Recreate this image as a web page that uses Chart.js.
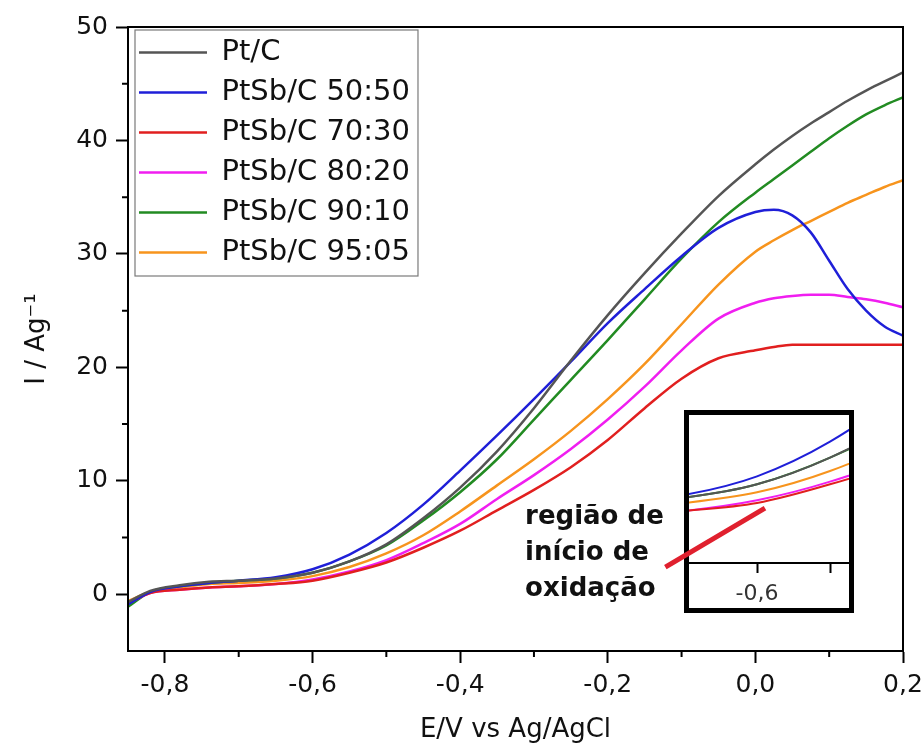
<!DOCTYPE html>
<html>
<head>
<meta charset="utf-8">
<script src="https://cdn.jsdelivr.net/npm/chart.js@4.4.1/dist/chart.umd.min.js"></script>
<style>
  html, body { margin: 0; padding: 0; background: #fff; }
  #wrap { position: relative; width: 923px; height: 746px; overflow: hidden; background: #fff; }
  #main { position: absolute; left: 0; top: 0; z-index: 2; }
  #insetBox { position: absolute; left: 684px; top: 410px; width: 160px; height: 193px;
              border: 5px solid #000; background: #fff; z-index: 1; }
  #inset { display: block; }
</style>
</head>
<body>
<div id="wrap">
  <div id="insetBox"><canvas id="inset" width="160" height="193"></canvas></div>
  <canvas id="main" width="923" height="746"></canvas>
</div>
<script>
// ---------------- data ----------------
const E = [-0.85, -0.82, -0.78, -0.74, -0.70, -0.65, -0.60, -0.55, -0.50, -0.45, -0.40, -0.35, -0.30,
           -0.25, -0.20, -0.15, -0.10, -0.05, 0.00, 0.025, 0.05, 0.075, 0.10, 0.125, 0.15, 0.175, 0.20];

const ptC      = [-0.7, 0.3, 0.8, 1.1, 1.2, 1.4, 1.9, 2.9, 4.4, 6.7, 9.4, 12.6, 16.4,
                  20.6, 24.6, 28.3, 31.8, 35.1, 37.9, 39.2, 40.4, 41.5, 42.5, 43.5, 44.4, 45.2, 46.0];
const ptSb5050 = [-0.9, 0.2, 0.7, 1.0, 1.2, 1.5, 2.2, 3.5, 5.4, 7.9, 10.9, 14.0, 17.2,
                  20.5, 23.9, 26.9, 29.8, 32.3, 33.7, 33.9, 33.4, 31.9, 29.4, 26.9, 25.0, 23.6, 22.8];
const ptSb7030 = [-0.8, 0.1, 0.4, 0.6, 0.7, 0.9, 1.2, 1.9, 2.8, 4.1, 5.6, 7.4, 9.2,
                  11.2, 13.6, 16.4, 19.0, 20.8, 21.5, 21.8, 22.0, 22.0, 22.0, 22.0, 22.0, 22.0, 22.0];
const ptSb8020 = [-0.8, 0.1, 0.4, 0.6, 0.7, 0.9, 1.3, 2.0, 3.0, 4.5, 6.2, 8.4, 10.5,
                  12.8, 15.4, 18.3, 21.5, 24.3, 25.7, 26.1, 26.3, 26.4, 26.4, 26.2, 26.0, 25.7, 25.3];
const ptSb9010 = [-1.1, 0.2, 0.7, 1.0, 1.2, 1.4, 1.9, 2.9, 4.3, 6.5, 9.0, 11.9, 15.4,
                  18.9, 22.4, 26.0, 29.6, 32.8, 35.4, 36.6, 37.8, 39.0, 40.2, 41.3, 42.3, 43.1, 43.8];
const ptSb9505 = [-0.6, 0.2, 0.6, 0.9, 1.0, 1.2, 1.6, 2.4, 3.6, 5.2, 7.3, 9.6, 11.9,
                  14.4, 17.2, 20.3, 23.8, 27.3, 30.2, 31.2, 32.1, 32.9, 33.7, 34.5, 35.2, 35.9, 36.5];

const seriesNames  = ['Pt/C', 'PtSb/C 50:50', 'PtSb/C 70:30', 'PtSb/C 80:20', 'PtSb/C 90:10', 'PtSb/C 95:05'];
const seriesValues = [ptC, ptSb5050, ptSb7030, ptSb8020, ptSb9010, ptSb9505];
const seriesColors = ['#555555', '#1f1fd8', '#e11f1f', '#f01ef0', '#228b22', '#f7941d'];

const xMajorTicks = [-0.8, -0.6, -0.4, -0.2, 0.0, 0.2];
const xMinorTicks = [-0.7, -0.5, -0.3, -0.1, 0.1];
const yMajorTicks = [0, 10, 20, 30, 40, 50];
const yMinorTicks = [5, 15, 25, 35, 45];
const insetTicks      = [-0.6, -0.55];
const insetTickLabels = [-0.6];

const xTitle = 'E/V vs Ag/AgCl';
const yTitle = 'I / Ag\u207B\u00B9';
const noteLines = ['região de', 'início de', 'oxidação'];

// ---------------- helpers ----------------
const FONT = "'DejaVu Sans', 'Liberation Sans', Arial, sans-serif";
const fmt = v => v.toFixed(1).replace('.', ',');
const inList = (list, v) => list.some(t => Math.abs(t - v) < 1e-9);
const allX = xMajorTicks.concat(xMinorTicks).sort((a, b) => a - b);
const allY = yMajorTicks.concat(yMinorTicks).sort((a, b) => a - b);
const MINOR_LEN = 6;

function makeDatasets(width) {
  return seriesNames.map((name, i) => ({
    label: name,
    data: E.map((e, j) => ({ x: e, y: seriesValues[i][j] })),
    borderColor: seriesColors[i],
    backgroundColor: seriesColors[i],
    borderWidth: width,
    pointRadius: 0,
    cubicInterpolationMode: 'monotone',
    fill: false
  }));
}

function gridFor(minorList, len) {
  return {
    display: true, drawOnChartArea: false, drawTicks: true, tickLength: len,
    tickWidth: 2, color: '#000',
    tickColor: c => (c.tick && inList(minorList, c.tick.value)) ? 'rgba(0,0,0,0)' : '#000'
  };
}
const axisBorder = { display: true, color: '#000', width: 2 };

// frame around the plot + minor ticks + legend box + annotation
const decorPlugin = {
  id: 'decor',
  afterLayout(chart) {
    const lg = chart.legend;
    if (lg) {
      const h = lg.height;
      lg.top = chart.chartArea.top;
      lg.bottom = lg.top + h;
    }
  },
  afterDraw(chart) {
    const { ctx, chartArea: a, scales } = chart;
    const x = scales.x, y = scales.y;
    ctx.save();
    ctx.strokeStyle = '#000';
    ctx.lineWidth = 2;
    ctx.strokeRect(a.left, a.top, a.right - a.left, a.bottom - a.top);

    // short minor ticks
    ctx.beginPath();
    xMinorTicks.forEach(v => {
      const px = x.getPixelForValue(v);
      ctx.moveTo(px, a.bottom); ctx.lineTo(px, a.bottom + MINOR_LEN);
    });
    yMinorTicks.forEach(v => {
      const py = y.getPixelForValue(v);
      ctx.moveTo(a.left, py); ctx.lineTo(a.left - MINOR_LEN, py);
    });
    ctx.stroke();

    // legend frame
    const hb = chart.legend && chart.legend.legendHitBoxes;
    if (hb && hb.length) {
      const l = Math.min(...hb.map(h => h.left)) - 4;
      const t = hb[0].top - 8;
      const r = Math.max(...hb.map(h => h.left + h.width)) + 8;
      const last = hb[hb.length - 1];
      const b = last.top + last.height + 9;
      ctx.strokeStyle = '#7a7a7a';
      ctx.lineWidth = 1.2;
      ctx.strokeRect(l, t, r - l, b - t);
    }

    // annotation arrow line (data coordinates)
    ctx.strokeStyle = '#e0202e';
    ctx.lineWidth = 5;
    ctx.beginPath();
    ctx.moveTo(x.getPixelForValue(-0.122), y.getPixelForValue(2.4));
    ctx.lineTo(x.getPixelForValue(0.013), y.getPixelForValue(7.6));
    ctx.stroke();

    // annotation text
    ctx.fillStyle = '#111';
    ctx.font = "bold 26px " + FONT;
    ctx.textBaseline = 'alphabetic';
    ctx.textAlign = 'left';
    const tx = x.getPixelForValue(-0.312);
    const ty = y.getPixelForValue(6.2);
    noteLines.forEach((s, i) => ctx.fillText(s, tx, ty + i * 36));
    ctx.restore();
  }
};

// ---------------- main chart ----------------
new Chart(document.getElementById('main'), {
  type: 'line',
  data: { datasets: makeDatasets(2.5) },
  options: {
    responsive: false,
    animation: false,
    devicePixelRatio: 1,
    layout: { padding: { top: 27, right: 20, left: 0, bottom: 0 } },
    scales: {
      x: {
        type: 'linear', min: -0.85, max: 0.2,
        afterBuildTicks: s => { s.ticks = allX.map(v => ({ value: v })); },
        afterFit: s => { s.height = 95; s.paddingLeft = 0; s.paddingRight = 0; },
        ticks: {
          autoSkip: false, maxRotation: 0, minRotation: 0, padding: 7,
          font: { family: FONT, size: 25 }, color: '#111',
          callback: v => inList(xMajorTicks, v) ? fmt(v) : ''
        },
        grid: gridFor(xMinorTicks, 12),
        border: axisBorder,
        title: { display: true, text: xTitle, font: { family: FONT, size: 26 }, color: '#111',
                 padding: { top: 0, bottom: 0 } }
      },
      y: {
        type: 'linear', min: -5, max: 50,
        afterBuildTicks: s => { s.ticks = allY.map(v => ({ value: v })); },
        afterFit: s => { s.width = 128; s.paddingTop = 0; s.paddingBottom = 0; },
        ticks: {
          autoSkip: false, padding: 8,
          font: { family: FONT, size: 25 }, color: '#111',
          callback: v => inList(yMajorTicks, v) ? String(v) : ''
        },
        grid: gridFor(yMinorTicks, 12),
        border: axisBorder,
        title: { display: true, text: yTitle, font: { family: FONT, size: 26 }, color: '#111',
                 padding: { top: 22, bottom: 0 } }
      }
    },
    plugins: {
      legend: {
        display: true,
        position: 'chartArea',
        align: 'start',
        labels: {
          usePointStyle: true, pointStyle: 'line', pointStyleWidth: 68,
          font: { family: FONT, size: 29 }, color: '#111', padding: 11
        }
      },
      tooltip: { enabled: false }
    }
  },
  plugins: [decorPlugin]
});

// ---------------- inset chart ----------------
new Chart(document.getElementById('inset'), {
  type: 'line',
  data: { datasets: makeDatasets(2) },
  options: {
    responsive: false,
    animation: false,
    devicePixelRatio: 1,
    layout: { padding: 0 },
    scales: {
      x: {
        type: 'linear', min: -0.6466, max: -0.537,
        afterBuildTicks: s => { s.ticks = insetTicks.map(v => ({ value: v })); },
        afterFit: s => { s.height = 45; s.paddingLeft = 0; s.paddingRight = 0; },
        ticks: {
          autoSkip: false, maxRotation: 0, minRotation: 0, padding: 8,
          font: { family: FONT, size: 22 }, color: '#333',
          callback: v => inList(insetTickLabels, v) ? fmt(v) : ''
        },
        grid: { display: true, drawOnChartArea: false, drawTicks: true, tickLength: 10,
                tickWidth: 2, color: '#000', tickColor: '#000' },
        border: axisBorder
      },
      y: { display: false, min: -1.05, max: 4.5 }
    },
    plugins: { legend: { display: false }, tooltip: { enabled: false } }
  }
});
</script>
</body>
</html>
